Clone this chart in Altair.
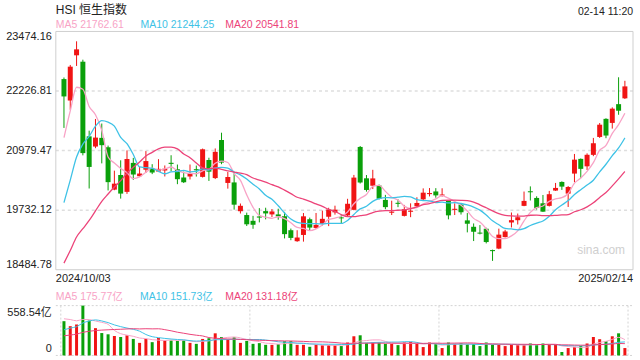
import altair as alt
import pandas as pd

# ---------------- data ----------------
dates = (
    ["2024/10/%02d" % d for d in [3, 4, 7, 8, 9, 10, 14, 15, 16, 17, 18, 21, 22, 23, 24, 25, 28, 29, 30, 31]]
    + ["2024/11/%02d" % d for d in [1, 4, 5, 6, 7, 8, 11, 12, 13, 14, 15, 18, 19, 20, 21, 22, 25, 26, 27, 28, 29]]
    + ["2024/12/%02d" % d for d in [2, 3, 4, 5, 6, 9, 10, 11, 12, 13, 16, 17, 18, 19, 20, 23, 24, 27, 30, 31]]
    + ["2025/01/%02d" % d for d in [2, 3, 6, 7, 8, 9, 10, 13, 14, 15, 16, 17, 20, 21, 22, 23, 24, 27, 28]]
    + ["2025/02/%02d" % d for d in [3, 4, 5, 6, 7, 10, 11, 12, 13, 14]]
)

opens = [22477, 22028, 22975, 22841, 21278, 21064, 21246, 21049, 20162, 20469,
         20115, 20722, 20443, 20579, 20597, 20541, 20563, 20724, 20589, 20414,
         20437, 20590, 20429, 20782, 20404, 21202, 20302, 20313, 19710, 19630,
         19509, 19600, 19712, 19643, 19643, 19605, 19312, 19082, 19213, 19542,
         19360, 19446, 19594, 19686, 19581, 19622, 19739, 21056, 20399, 20243,
         20248, 19947, 19678, 19886, 19612, 19698, 19814, 19958, 20068, 20124,
         20038, 19936, 19738, 19849, 19518, 19384, 19262, 19343, 18896, 18927,
         19168, 19474, 19522, 19822, 20128, 19988, 19876, 19822, 20142, 20323,
         20078, 20498, 20806, 20650, 20890, 21265, 21644, 21559, 21952, 22074]

highs = [22510, 22773, 23268, 22883, 21397, 21642, 21546, 21084, 20559, 20776,
         20983, 20827, 20639, 20969, 20695, 20800, 20668, 20882, 20687, 20540,
         20688, 20666, 21022, 20830, 21024, 21354, 20532, 20507, 19871, 19680,
         19613, 19775, 19783, 19755, 19762, 19695, 19347, 19312, 19672, 19576,
         19673, 19723, 19782, 19826, 19637, 19970, 20470, 21076, 20468, 20577,
         20269, 20052, 19930, 19960, 19842, 19875, 20002, 20188, 20195, 20193,
         20190, 19945, 19875, 19876, 19671, 19454, 19420, 19364, 18905, 19345,
         19321, 19683, 19661, 20122, 20230, 20023, 20050, 20135, 20302, 20335,
         20237, 20909, 20815, 20921, 21245, 21557, 21657, 21885, 22515, 22441]

lows = [21454, 21834, 22752, 20880, 20186, 21030, 20712, 20145, 20150, 19974,
        20073, 20367, 20430, 20510, 20487, 20530, 20438, 20548, 20276, 20300,
        20375, 20436, 20416, 20344, 20383, 20695, 20183, 19743, 19662, 19400,
        19342, 19476, 19539, 19588, 19532, 19140, 19103, 19069, 19073, 19298,
        19339, 19410, 19398, 19638, 19455, 19610, 19730, 20290, 20120, 20174,
        19956, 19753, 19630, 19795, 19600, 19585, 19805, 19945, 20020, 19993,
        20015, 19540, 19630, 19640, 19267, 19085, 19225, 19036, 18670, 18915,
        19160, 19370, 19432, 19815, 19935, 19745, 19695, 19809, 20135, 20156,
        19799, 20317, 20401, 20573, 20863, 21244, 21239, 21440, 21730, 22060]

closes = [22113.51, 22736.87, 23099.78, 20926.79, 20637.24, 21251.98, 21092.87, 20318.79, 20286.84, 20079.11,
          20804.11, 20478.46, 20498.95, 20760.15, 20520, 20597, 20599.36, 20701, 20380.64, 20317.33,
          20506.43, 20567.52, 21006.97, 20538.38, 20953.34, 20728.19, 20426.93, 19846.88, 19823.46, 19435.81,
          19426.34, 19576.61, 19663.67, 19705.01, 19601.11, 19229.97, 19150.99, 19159.2, 19603.13, 19366.96,
          19423.61, 19550.29, 19746.32, 19742.46, 19560.44, 19865.85, 20414.09, 20311.28, 20155.05, 20397.05,
          19971.24, 19795.49, 19700.42, 19864.55, 19752.51, 19720.7, 19883.13, 20098.29, 20090.46, 20041.42,
          20059.95, 19623.32, 19760.27, 19688.29, 19447.58, 19279.84, 19240.89, 19064.29, 18874.14, 19219.78,
          19286.07, 19522.89, 19584.06, 19925.81, 20106.55, 19778.77, 19700.56, 20066.19, 20197.77, 20225.11,
          20217.26, 20789.96, 20597.09, 20891.62, 21133.54, 21521.98, 21294.86, 21857.92, 21814.37, 22323.9]

# volume in 亿
volumes = [384, 328, 347, 558.54, 391, 306, 251, 237, 218, 207,
           226, 185, 141, 185, 149, 196, 168, 168, 163, 168,
           141, 130, 185, 193, 248, 207, 182, 204, 141, 163,
           130, 138, 119, 119, 127, 160, 160, 119, 119, 97,
           123, 116, 116, 116, 105, 145, 215, 226, 141, 145,
           145, 130, 130, 116, 145, 152, 130, 94, 145, 130,
           83, 145, 130, 138, 130, 127, 105, 145, 123, 123,
           105, 119, 119, 116, 134, 116, 134, 123, 123, 39,
           83, 97, 108, 134, 207, 182, 160, 215, 248, 83]

# sessions before the window (needed for the moving averages at the left edge)
pre_closes = [17457.34, 17444.30, 17444.30, 17196.96, 17234.09, 17108.71, 17240.39, 17369.09, 17422.12,
              17660.02, 18013.15, 18258.57, 18247.11, 19000.82, 19129.10, 19924.58, 20632.30, 21133.68,
              22443.73]
pre_volumes = [150, 145, 160, 140, 150, 155, 165, 150, 160, 155,
               130, 190, 140, 180, 175, 370, 420, 480, 401]

price_ticks = [23474.16, 22226.81, 20979.47, 19732.12, 18484.78]
vol_ticks = [558.54, 0]

# ---------------- derived table ----------------
N = len(closes)
allc = pd.Series(pre_closes + closes)
allv = pd.Series(pre_volumes + volumes)
P = len(pre_closes)
df = pd.DataFrame({
    "i": list(range(N)), "date": dates,
    "o": opens, "h": highs, "l": lows, "c": closes, "v": volumes,
})
for n in (5, 10, 20):
    df["ma%d" % n] = allc.rolling(n).mean().iloc[P:].values.round(2)
    df["vma%d" % n] = allv.rolling(n).mean().iloc[P:].values.round(2)
RED, GREEN = "#f01414", "#0aa00a"
df["col"] = [RED if c >= o else GREEN for o, c in zip(opens, closes)]

W = 579
PH = 239
VH = 50
GAP = 36
PADL, PADT, PADR, PADB = 55, 30, 6, 5
C5, C10, C20 = "#f8a3c6", "#3ec2e6", "#ec4379"
FONT = "Liberation Sans, Arial, Noto Sans CJK SC"

xs = alt.Scale(domain=[-0.5, N - 0.5], nice=False, zero=False)
ps = alt.Scale(domain=[price_ticks[-1], price_ticks[0]], nice=False, zero=False)
vs = alt.Scale(domain=[0, vol_ticks[0]], nice=False, zero=False)

X = alt.X("i:Q", scale=xs, axis=None)
base = alt.Chart(df)
one = pd.DataFrame({"a": [0]})


def ma_line(field, color, sc, width):
    return base.mark_line(interpolate="monotone", strokeWidth=width, color=color).encode(
        x=X, y=alt.Y(field + ":Q", scale=sc, axis=None))


def ylabels(sub, baseline, sc, dy=0):
    return alt.Chart(sub).mark_text(align="right", baseline=baseline, dx=-4, dy=dy,
                                    fontSize=11, font=FONT, color="#222").encode(
        x=alt.value(0), y=alt.Y("t:Q", scale=sc, axis=None), text="lab:N")


def label(txt, x, y, color="#222", size=11, align="left"):
    return alt.Chart(one).mark_text(align=align, baseline="middle", fontSize=size, font=FONT,
                                    color=color).encode(
        x=alt.value(x), y=alt.value(y), text=alt.value(txt))


def hline(x1, x2, y, **kw):
    return alt.Chart(one).mark_rule(**kw).encode(x=alt.value(x1), x2=alt.value(x2), y=alt.value(y))


def vline(x, y1, y2, **kw):
    return alt.Chart(one).mark_rule(**kw).encode(x=alt.value(x), y=alt.value(y1), y2=alt.value(y2))


# ---------------- price panel ----------------
grid_df = pd.DataFrame({"g": price_ticks[1:-1]})
grid = alt.Chart(grid_df).mark_rule(color="#dedede", strokeWidth=1.5, strokeDash=[3, 3]).encode(
    y=alt.Y("g:Q", scale=ps, axis=None))
solid = dict(color="#cfcfcf", strokeWidth=1)

wicks = base.mark_rule(strokeWidth=1).encode(
    x=X, y=alt.Y("l:Q", scale=ps, axis=None), y2="h:Q", color=alt.Color("col:N", scale=None))
bodies = base.mark_bar(size=5).encode(
    x=X, y=alt.Y("o:Q", scale=ps, axis=None), y2="c:Q", color=alt.Color("col:N", scale=None))

tick_df = pd.DataFrame({"t": price_ticks, "lab": ["%.2f" % t for t in price_ticks]})

price = alt.layer(
    # invisible frame that fixes the page extent (left/top/right margins)
    hline(-PADL, W + PADR, -PADT, color="white", strokeWidth=0.01),
    grid,
    hline(0, W, 0, **solid), hline(0, W, PH, **solid),
    vline(0, 0, PH, **solid), vline(W, 0, PH, **solid),
    wicks, bodies,
    ma_line("ma5", C5, ps, 1.3), ma_line("ma10", C10, ps, 1.3), ma_line("ma20", C20, ps, 1.3),
    ylabels(tick_df.iloc[:1], "top", ps, 0),
    ylabels(tick_df.iloc[1:-1], "middle", ps),
    ylabels(tick_df.iloc[-1:], "bottom", ps, 0),
    label("HSI 恒生指数", 0, -22, "#222", 12),
    label("02-14 11:20", W, -20, "#222", 10.5, "right"),
    label("MA5 21762.61", 0, -6, C5, 10.5),
    label("MA10 21244.25", 85, -6, C10, 10.5),
    label("MA20 20541.81", 170, -6, C20, 10.5),
    label(dates[0], 0, PH + 9, "#222", 11),
    label(dates[-1], W, PH + 9, "#222", 11, "right"),
    label("MA5 175.77亿", 0, PH + 27, C5, 10.5),
    label("MA10 151.73亿", 84.5, PH + 27, C10, 10.5),
    label("MA20 131.18亿", 170, PH + 27, C20, 10.5),
    label("sina.com", 547, 219, "#cfcfcf", 12, "center"),
).properties(width=W, height=PH)

# ---------------- volume panel ----------------
dot = dict(color="#d4d4d4", strokeWidth=1, strokeDash=[2, 2])
vgrid = alt.Chart(pd.DataFrame({"gx": [-0.5, N / 3 - 0.5, 2 * N / 3 - 0.5, N - 0.5]})).mark_rule(**dot).encode(
    x=alt.X("gx:Q", scale=xs, axis=None), y=alt.value(0), y2=alt.value(VH))
vbars = base.mark_bar(size=3).encode(
    x=X, y=alt.Y("v:Q", scale=vs, axis=None), color=alt.Color("col:N", scale=None))

vtick_df = pd.DataFrame({"t": vol_ticks, "lab": ["%.2f亿" % vol_ticks[0], "0"]})

volume = alt.layer(
    hline(-PADL, W + PADR, VH + PADB, color="white", strokeWidth=0.01),
    hline(0, W, 0, **dot), hline(0, W, VH, **dot),
    vgrid, vbars,
    ma_line("vma5", C5, vs, 1), ma_line("vma10", C10, vs, 1), ma_line("vma20", C20, vs, 1),
    ylabels(vtick_df.iloc[:1], "top", vs, 1),
    ylabels(vtick_df.iloc[1:], "bottom", vs, -1),
).properties(width=W, height=VH)

chart = alt.vconcat(price, volume, spacing=GAP, bounds="flush").properties(
    padding=0,
    autosize=alt.AutoSizeParams(type="pad"),
    background="white",
).configure_view(stroke="transparent")

chart.save("out.html", embed_options={"renderer": "svg", "actions": False})
